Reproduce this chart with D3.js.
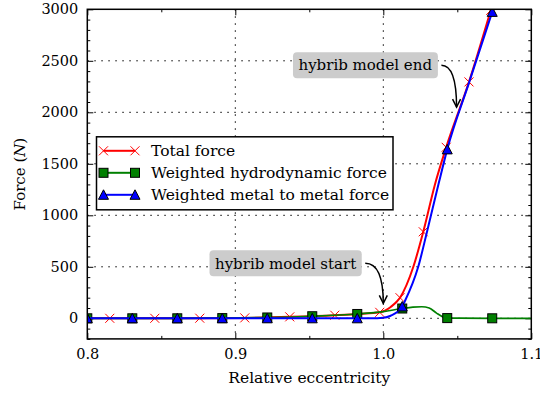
<!DOCTYPE html>
<html>
<head>
<meta charset="utf-8">
<script src="https://cdn.jsdelivr.net/npm/d3@7"></script>
<style>
    body { margin: 0; background: #fff; }
    text { font-family: "DejaVu Serif", serif; fill: #000; }
</style>
</head>
<body>
<div id="chart"></div>
<script>
// series
const totalX = [0.8, 0.8152, 0.8456, 0.876, 0.9064, 0.9368, 0.9672, 0.9976, 1.005, 1.0113, 1.0203, 1.027, 1.0349, 1.0425, 1.0579, 1.0726];
const totalY = [0, 0, 0, 1, 4, 14, 30, 58, 110, 200, 500, 840, 1300, 1660, 2295, 2990];
const totalMarks = [1, 2, 3, 4, 5, 6, 7, 9, 11, 13, 14, 15];

const hydroX = [0.8, 0.8304, 0.8608, 0.8912, 0.9216, 0.952, 0.9824, 1.0, 1.0128, 1.02, 1.026, 1.031, 1.036, 1.0402, 1.0432, 1.0736, 1.1];
const hydroY = [0, 0, 0, 2, 8, 20, 42, 65, 95, 108, 112, 100, 50, 14, 2, 0, 0];
const hydroMarks = [0, 1, 2, 3, 4, 5, 6, 8, 14, 15];

const metalX = [0.8, 0.8304, 0.8608, 0.8912, 0.9216, 0.952, 0.9824, 0.992, 1.0, 1.005, 1.0128, 1.0147, 1.0236, 1.0297, 1.0376, 1.0432, 1.058, 1.0736];
const metalY = [0, 0, 0, 0, 0, 0, 0, 0, 5, 25, 115, 170, 500, 850, 1320, 1640, 2290, 2975];
const metalMarks = [0, 1, 2, 3, 4, 5, 6, 10, 15, 17];

const seriesNames = ["Total force", "Weighted hydrodynamic force", "Weighted metal to metal force"];
const seriesColors = ["#ff0000", "#008000", "#0000ff"];

const xTicks = [0.8, 0.9, 1.0, 1.1];
const xMinorTicks = [0.85, 0.95, 1.05];
const yTicks = [0, 500, 1000, 1500, 2000, 2500, 3000];
const yMinorTicks = d3.range(-200, 3001, 100).filter(v => v % 500 !== 0);

const noteText = ["hybrib model start", "hybrib model end"];
const noteBox = [[0.934, 534], [0.9878, 2457]];
const notePoint = [[1.0, 145], [1.0495, 2050]];

const width = 540, height = 394;
const plotLeft = 87.3, plotRight = 531.3, plotTop = 9.3, plotBottom = 338.9;

let x = d3.scaleLinear().domain([0.8, 1.1]).range([plotLeft, plotRight]);
let y = d3.scaleLinear().domain([-200, 3000]).range([plotBottom, plotTop]);

const svg = d3.select("#chart")
    .append("svg")
    .attr("width", width)
    .attr("height", height);

svg.append("clipPath")
    .attr("id", "plotclip")
    .append("rect")
    .attr("x", plotLeft)
    .attr("y", plotTop)
    .attr("width", plotRight - plotLeft)
    .attr("height", plotBottom - plotTop);

// dotted grid
svg.append("g")
    .selectAll("line")
    .data(xTicks.slice(1, -1))
    .enter().append("line")
    .attr("x1", d => x(d)).attr("x2", d => x(d))
    .attr("y1", plotTop).attr("y2", plotBottom)
    .attr("stroke", "#000").attr("stroke-width", 1).attr("stroke-dasharray", "1.5,5.5");

svg.append("g")
    .selectAll("line")
    .data(yTicks.slice(0, -1))
    .enter().append("line")
    .attr("x1", plotLeft).attr("x2", plotRight)
    .attr("y1", d => y(d)).attr("y2", d => y(d))
    .attr("stroke", "#000").attr("stroke-width", 1).attr("stroke-dasharray", "1.5,5.5");

// axes, ticks pointing in
function addAxis(axis, tx, ty, values, size, labels, pad) {
    let g = svg.append("g")
        .attr("transform", "translate(" + tx + "," + ty + ")")
        .call(axis.tickValues(values).tickSize(-size).tickPadding(pad)
            .tickFormat(labels ? (d => d3.format(labels)(d)) : ""));
    g.select(".domain").remove();
    g.selectAll("line").attr("stroke", "#000").attr("stroke-width", 1);
    g.selectAll("text").style("font-family", "DejaVu Serif").style("font-size", "14.5px").attr("fill", "#000");
    return g;
}

addAxis(d3.axisBottom(x), 0, plotBottom, xTicks, 6, ".1f", 10);
addAxis(d3.axisBottom(x), 0, plotBottom, xMinorTicks, 3, null, 0);
addAxis(d3.axisTop(x), 0, plotTop, xTicks, 6, null, 0);
addAxis(d3.axisTop(x), 0, plotTop, xMinorTicks, 3, null, 0);
addAxis(d3.axisLeft(y), plotLeft, 0, yTicks, 6, "d", 9);
addAxis(d3.axisLeft(y), plotLeft, 0, yMinorTicks, 3, null, 0);
addAxis(d3.axisRight(y), plotRight, 0, yTicks, 6, null, 0);
addAxis(d3.axisRight(y), plotRight, 0, yMinorTicks, 3, null, 0);

// markers
function drawMarker(g, kind, cx, cy) {
    if (kind === 0) {
        g.append("path")
            .attr("d", "M-4.5,-4.5L4.5,4.5M-4.5,4.5L4.5,-4.5")
            .attr("transform", "translate(" + cx + "," + cy + ")")
            .attr("stroke", seriesColors[0]).attr("stroke-width", 1).attr("fill", "none");
    } else if (kind === 1) {
        g.append("rect")
            .attr("x", cx - 4.5).attr("y", cy - 4.5)
            .attr("width", 9).attr("height", 9)
            .attr("fill", seriesColors[1]).attr("stroke", "#000").attr("stroke-width", 1);
    } else {
        g.append("path")
            .attr("d", "M0,-5L5,4.5L-5,4.5Z")
            .attr("transform", "translate(" + cx + "," + cy + ")")
            .attr("fill", seriesColors[2]).attr("stroke", "#000").attr("stroke-width", 1);
    }
}

const series = [
    {xs: totalX, ys: totalY, marks: totalMarks},
    {xs: hydroX, ys: hydroY, marks: hydroMarks},
    {xs: metalX, ys: metalY, marks: metalMarks}
];

const line = d3.line()
    .x(d => x(d[0]))
    .y(d => y(d[1]))
    .curve(d3.curveMonotoneX);

const plotArea = svg.append("g").attr("clip-path", "url(#plotclip)");

series.forEach(function (s, k) {
    let pts = s.xs.map((v, i) => [v, s.ys[i]]);
    plotArea.append("path")
        .attr("d", line(pts))
        .attr("fill", "none")
        .attr("stroke", seriesColors[k])
        .attr("stroke-width", k === 1 ? 1.7 : 2);
    s.marks.forEach(function (i) {
        drawMarker(plotArea, k, x(s.xs[i]), y(s.ys[i]));
    });
});

// frame
svg.append("rect")
    .attr("x", plotLeft).attr("y", plotTop)
    .attr("width", plotRight - plotLeft).attr("height", plotBottom - plotTop)
    .attr("fill", "none").attr("stroke", "#000").attr("stroke-width", 1.5);

// legend
const legend = svg.append("g");
legend.append("rect")
    .attr("x", 96.5).attr("y", 136.8)
    .attr("width", 296.5).attr("height", 73)
    .attr("fill", "#fff").attr("stroke", "#000").attr("stroke-width", 1.5);

seriesNames.forEach(function (name, k) {
    let ly = 150.8 + k * 22;
    legend.append("line")
        .attr("x1", 103.5).attr("x2", 135)
        .attr("y1", ly).attr("y2", ly)
        .attr("stroke", seriesColors[k]).attr("stroke-width", 2);
    drawMarker(legend, k, 103.5, ly);
    drawMarker(legend, k, 135, ly);
    legend.append("text")
        .attr("x", 151).attr("y", ly)
        .attr("dy", "0.35em")
        .style("font-size", "15.5px")
        .text(name);
});

// annotations with rounded boxes and curved arrows
noteText.forEach(function (t, k) {
    let g = svg.append("g");
    let bx = x(noteBox[k][0]), by = y(noteBox[k][1]);
    let txt = g.append("text")
        .attr("x", bx).attr("y", by)
        .attr("dy", "0.35em")
        .attr("text-anchor", "middle")
        .style("font-size", "15px")
        .text(t);
    let bb = txt.node().getBBox();
    g.insert("rect", "text")
        .attr("x", bb.x - 5.5).attr("y", by - 13)
        .attr("width", bb.width + 11).attr("height", 26)
        .attr("rx", 4).attr("ry", 4)
        .attr("fill", "#cccccc");
    let sx = bb.x + bb.width + 9, sy = by;
    let ex = x(notePoint[k][0]), ey = y(notePoint[k][1]);
    g.append("path")
        .attr("d", "M" + sx + "," + sy + "Q" + ex + "," + sy + " " + ex + "," + ey)
        .attr("fill", "none").attr("stroke", "#000").attr("stroke-width", 1.5);
    g.append("path")
        .attr("d", "M" + (ex - 4) + "," + (ey - 8) + "L" + ex + "," + ey + "L" + (ex + 4) + "," + (ey - 8))
        .attr("fill", "none").attr("stroke", "#000").attr("stroke-width", 1.5);
});

// axis titles
svg.append("text")
    .attr("x", (plotLeft + plotRight) / 2).attr("y", 383)
    .attr("text-anchor", "middle")
    .style("font-size", "15.5px")
    .text("Relative eccentricity");

let ylab = svg.append("text")
    .attr("transform", "translate(25," + ((plotTop + plotBottom) / 2) + ") rotate(-90)")
    .attr("text-anchor", "middle")
    .style("font-size", "15px");
ylab.append("tspan").text("Force (");
ylab.append("tspan").style("font-style", "italic").text("N");
ylab.append("tspan").text(")");
</script>
</body>
</html>
